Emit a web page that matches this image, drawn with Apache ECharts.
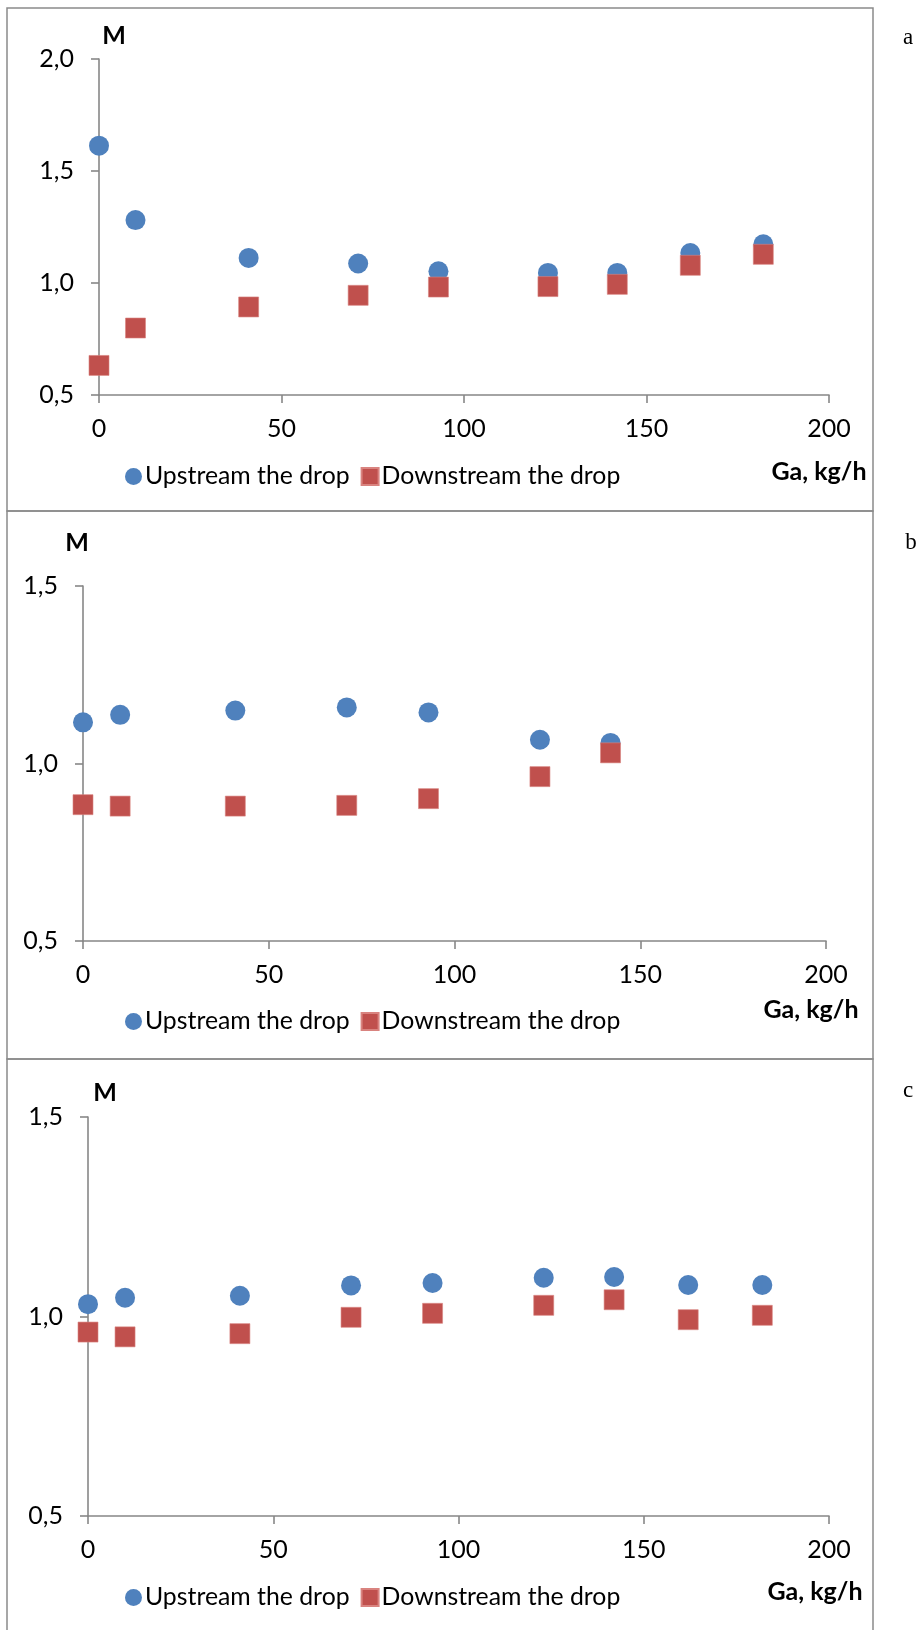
<!DOCTYPE html>
<html>
<head>
<meta charset="utf-8">
<script src="https://cdn.jsdelivr.net/npm/echarts@6/dist/echarts.min.js"></script>
<style>
html,body{margin:0;padding:0;background:#fff;}
#chart{width:923px;height:1630px;}
</style>
</head>
<body>
<div id="chart"></div>
<script>
// ---- data ----
const seriesNames = ['Upstream the drop', 'Downstream the drop'];
const xTicks = [0, 50, 100, 150, 200];
const yTicksA = [0.5, 1.0, 1.5, 2.0];
const yTicksBC = [0.5, 1.0, 1.5];
const panelLetters = ['a', 'b', 'c'];

const gaA = [0, 10, 41, 71, 93, 123, 142, 162, 182];
const upA = [1.613, 1.281, 1.112, 1.087, 1.052, 1.045, 1.045, 1.134, 1.173];
const downA = [0.632, 0.799, 0.893, 0.945, 0.982, 0.984, 0.994, 1.079, 1.128];

const gaB = [0, 10, 41, 71, 93, 123, 142];
const upB = [1.116, 1.137, 1.149, 1.158, 1.144, 1.067, 1.058];
const downB = [0.884, 0.880, 0.880, 0.882, 0.901, 0.963, 1.030];

const gaC = [0, 10, 41, 71, 93, 123, 142, 162, 182];
const upC = [1.031, 1.047, 1.052, 1.078, 1.084, 1.097, 1.099, 1.079, 1.079];
const downC = [0.961, 0.949, 0.957, 0.998, 1.008, 1.028, 1.042, 0.992, 1.003];

// ---- helpers ----
const FONT = 'Lato, "Open Sans", sans-serif';
const FS = 25;
const AXIS_COLOR = '#878787';
const BLUE = '#4F81BD';
const RED = '#C0504D';
const pairs = (xs, ys) => xs.map((x, i) => [x, ys[i]]);

const grids = [
  {left: 99, top: 59, width: 730, height: 336},
  {left: 83, top: 586, width: 743, height: 355},
  {left: 88, top: 1117, width: 741, height: 399}
];
const yTickSets = [yTicksA, yTicksBC, yTicksBC];

const xAxes = grids.map((g, i) => ({
  type: 'value', gridIndex: i,
  min: xTicks[0], max: xTicks[xTicks.length - 1], interval: xTicks[1] - xTicks[0],
  axisLine: {show: true, lineStyle: {color: AXIS_COLOR, width: 1.6}},
  axisTick: {show: true, inside: false, length: 8, lineStyle: {color: AXIS_COLOR, width: 1.6}},
  splitLine: {show: false},
  axisLabel: {color: '#000', fontFamily: FONT, fontSize: FS, margin: 21}
}));
const yAxes = grids.map((g, i) => {
  const t = yTickSets[i];
  return {
    type: 'value', gridIndex: i,
    min: t[0], max: t[t.length - 1], interval: 0.5,
    axisLine: {show: true, lineStyle: {color: AXIS_COLOR, width: 1.6}},
    axisTick: {show: true, inside: false, length: 8, lineStyle: {color: AXIS_COLOR, width: 1.6}},
    splitLine: {show: false},
    axisLabel: {color: '#000', fontFamily: FONT, fontSize: FS, margin: 25,
      formatter: v => v.toFixed(1).replace('.', ',')}
  };
});

const panelData = [[gaA, upA, downA], [gaB, upB, downB], [gaC, upC, downC]];
const series = [];
panelData.forEach((p, i) => {
  series.push({
    name: seriesNames[0], type: 'scatter', xAxisIndex: i, yAxisIndex: i,
    symbol: 'circle', symbolSize: 20, clip: false,
    itemStyle: {color: BLUE, opacity: 1},
    data: pairs(p[0], p[1])
  });
  series.push({
    name: seriesNames[1], type: 'scatter', xAxisIndex: i, yAxisIndex: i,
    symbol: 'rect', symbolSize: 20, clip: false,
    itemStyle: {color: RED, opacity: 1, borderColor: '#D9837F', borderWidth: 0.6},
    data: pairs(p[0], p[2])
  });
});

const legendTops = [459, 1004, 1580];
const legends = legendTops.map(t => ({
  left: 120, top: t, orient: 'horizontal',
  itemWidth: 17, itemHeight: 17, itemGap: 11,
  selectedMode: false,
  textStyle: {color: '#000', fontFamily: FONT, fontSize: 24.8, padding: [0, 0, 0, -2]},
  data: [{name: seriesNames[0], icon: 'circle'}, {name: seriesNames[1], icon: 'rect'}]
}));

const panelBoxes = [[8, 511], [511, 1059], [1059, 1634]];
const mPos = [[114, 36], [77, 543], [105, 1093]];
const gaPos = [[819, 472], [811, 1010], [815, 1592]];
const letterPos = [[908, 38], [911, 543], [908, 1091]];

const graphic = [];
panelBoxes.forEach(b => {
  graphic.push({type: 'rect', shape: {x: 7, y: b[0], width: 866, height: b[1] - b[0]},
    style: {fill: 'none', stroke: '#8a8a8a', lineWidth: 1.5}, silent: true});
});
mPos.forEach(p => graphic.push({type: 'text', x: p[0], y: p[1],
  style: {text: 'M', font: 'bold 25px ' + FONT, fill: '#000', align: 'center', verticalAlign: 'middle',
    textAlign: 'center', textVerticalAlign: 'middle'}}));
gaPos.forEach(p => graphic.push({type: 'text', x: p[0], y: p[1],
  style: {text: 'Ga, kg/h', font: 'bold 25px ' + FONT, fill: '#000', align: 'center', verticalAlign: 'middle',
    textAlign: 'center', textVerticalAlign: 'middle'}}));
letterPos.forEach((p, i) => graphic.push({type: 'text', x: p[0], y: p[1],
  style: {text: panelLetters[i], font: '23px "Liberation Serif", "DejaVu Serif", serif', fill: '#000',
    align: 'center', verticalAlign: 'middle', textAlign: 'center', textVerticalAlign: 'middle'}}));

const chart = echarts.init(document.getElementById('chart'), null, {renderer: 'canvas'});
chart.setOption({
  backgroundColor: '#fff',
  animation: false,
  grid: grids,
  xAxis: xAxes,
  yAxis: yAxes,
  legend: legends,
  series: series,
  graphic: graphic
});
</script>
</body>
</html>
